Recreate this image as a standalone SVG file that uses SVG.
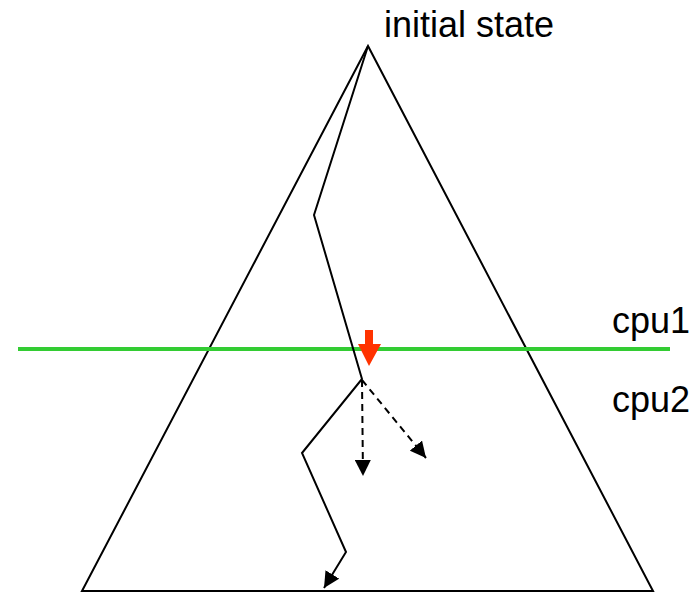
<svg xmlns="http://www.w3.org/2000/svg" width="698" height="592" viewBox="0 0 698 592">
<defs>
<style>
.ln{fill:none;stroke:#000;stroke-width:2}
.ds{fill:none;stroke:#000;stroke-width:2;stroke-dasharray:7,5}
.t{font-family:"Liberation Sans",Arial,sans-serif;font-size:36px;fill:#000}
</style>
<marker id="ah" viewBox="0 0 10 10" refX="10" refY="5" markerWidth="10" markerHeight="10" markerUnits="userSpaceOnUse" orient="auto">
<path d="M0,0 L10,5 L0,10 z" fill="#000"/>
</marker>
<marker id="ahb" viewBox="0 0 10 10" refX="10" refY="5" markerWidth="16" markerHeight="16" markerUnits="userSpaceOnUse" orient="auto">
<path d="M0,0 L10,5 L0,10 z" fill="#000"/>
</marker>
</defs>
<g id="tree">
<path class="ln" d="M368,46 L82,591 L653,591 Z"/>
</g>
<g id="cut">
<line x1="18" y1="349" x2="670" y2="349" stroke="#33cc33" stroke-width="4"/>
</g>
<g id="labels">
<text class="t" x="384" y="37">initial state</text>
<text class="t" x="612" y="333">cpu1</text>
<text class="t" x="612" y="412">cpu2</text>
</g>
<g id="connectors">
<polyline class="ln" points="368,46 314,215 362,379 302,453 346,552 324,588" marker-end="url(#ahb)"/>
<line class="ds" x1="362" y1="380" x2="363" y2="476" marker-end="url(#ahb)"/>
<line class="ds" x1="362" y1="380" x2="426" y2="458" marker-end="url(#ahb)"/>
<path d="M365,330 H373 V344 H381 L369,366 L358,344 H365 Z" fill="#ff3300"/>
</g>
</svg>
